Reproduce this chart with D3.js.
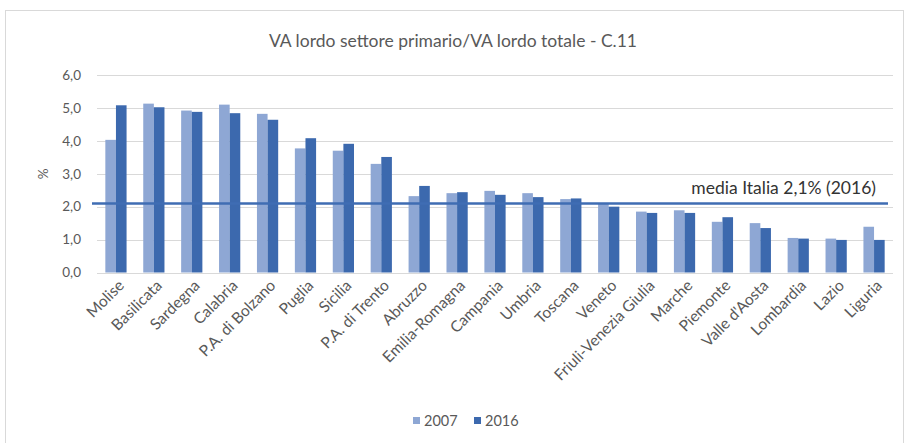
<!DOCTYPE html>
<html>
<head>
<meta charset="utf-8">
<script src="https://cdn.jsdelivr.net/npm/d3@7"></script>
<style>
  body { margin: 0; background: #fff; }
  text { font-family: Lato, "Open Sans", sans-serif; fill: #595959; }
</style>
</head>
<body>
<div id="chart"></div>
<script>
const regions = ["Molise", "Basilicata", "Sardegna", "Calabria", "P.A. di Bolzano", "Puglia",
  "Sicilia", "P.A. di Trento", "Abruzzo", "Emilia-Romagna", "Campania", "Umbria", "Toscana",
  "Veneto", "Friuli-Venezia Giulia", "Marche", "Piemonte", "Valle d'Aosta", "Lombardia",
  "Lazio", "Liguria"];
const va2007 = [4.03, 5.13, 4.92, 5.10, 4.82, 3.77, 3.70, 3.30, 2.32, 2.41, 2.48, 2.41, 2.23,
  2.10, 1.85, 1.89, 1.54, 1.50, 1.05, 1.03, 1.39];
const va2016 = [5.08, 5.02, 4.88, 4.84, 4.64, 4.08, 3.91, 3.51, 2.63, 2.44, 2.36, 2.29, 2.25,
  2.00, 1.81, 1.81, 1.68, 1.35, 1.03, 0.99, 0.99];
const years = ["2007", "2016"];
const yTicks = [0, 1, 2, 3, 4, 5, 6];
const mediaItalia = 2.1;

const W = 906, H = 443;
const margin = { top: 75, right: 13, bottom: 171, left: 97 };
const colors = ["#8EA7D4", "#3C69AE"];

const svg = d3.select("#chart").append("svg")
  .attr("width", W).attr("height", H);

svg.append("rect")
  .attr("x", 5.5).attr("y", 10.5)
  .attr("width", W - 8).attr("height", H - 8)
  .attr("fill", "#fff").attr("stroke", "#d9d9d9");

const x = d3.scaleBand()
  .domain(regions)
  .range([margin.left, W - margin.right])
  .paddingInner(0.44).paddingOuter(0.22);

const xs = d3.scaleBand().domain(years).range([0, x.bandwidth()]);

const y = d3.scaleLinear().domain([0, 6]).range([H - margin.bottom + 0.5, margin.top]);

// grid
svg.append("g").selectAll("line")
  .data(yTicks).enter().append("line")
  .attr("x1", margin.left).attr("x2", W - margin.right)
  .attr("y1", d => Math.round(y(d)) + 0.5).attr("y2", d => Math.round(y(d)) + 0.5)
  .attr("stroke", "#d9d9d9");

// y axis labels
const yAxis = d3.axisLeft(y).tickValues(yTicks)
  .tickFormat(d => d3.format(".1f")(d).replace(".", ","))
  .tickSize(0).tickPadding(16);
svg.append("g")
  .attr("transform", `translate(${margin.left},0)`)
  .call(yAxis)
  .call(g => g.select(".domain").remove())
  .call(g => g.selectAll("text").attr("font-size", 13.5).attr("font-family", "Lato").attr("fill", "#595959"));

svg.append("text")
  .attr("transform", `translate(48,${y(3)}) rotate(-90)`)
  .attr("text-anchor", "middle")
  .attr("font-size", 13.5)
  .text("%");

// bars
const groups = svg.append("g").selectAll("g")
  .data(regions).enter().append("g")
  .attr("transform", d => `translate(${x(d)},0)`);

groups.selectAll("rect")
  .data((d, i) => [{ k: "2007", v: va2007[i] }, { k: "2016", v: va2016[i] }])
  .enter().append("rect")
  .attr("x", d => xs(d.k))
  .attr("width", xs.bandwidth())
  .attr("y", d => y(d.v))
  .attr("height", d => y(0) - y(d.v))
  .attr("fill", (d, i) => colors[i]);

// average line
svg.append("line")
  .attr("x1", margin.left - 5).attr("x2", W - margin.right - 5)
  .attr("y1", y(mediaItalia)).attr("y2", y(mediaItalia))
  .attr("stroke", "#3F6DB3").attr("stroke-width", 2.5);

svg.append("text")
  .attr("x", 876).attr("y", y(mediaItalia) - 9)
  .attr("text-anchor", "end")
  .attr("font-size", 17.5)
  .style("fill", "#333")
  .text("media Italia 2,1% (2016)");

// x labels
const xAxis = d3.axisBottom(x).tickSize(0).tickPadding(0);
svg.append("g")
  .attr("transform", `translate(0,${y(0)})`)
  .call(xAxis)
  .call(g => g.select(".domain").remove())
  .call(g => g.selectAll("text")
    .attr("font-size", 15.5)
    .attr("font-family", "Lato")
    .attr("fill", "#595959")
    .attr("text-anchor", "end")
    .attr("dy", 0)
    .attr("transform", "translate(9,14) rotate(-45)"));

// title
svg.append("text")
  .attr("x", 453).attr("y", 47)
  .attr("text-anchor", "middle")
  .attr("font-size", 17.5)
  .text("VA lordo settore primario/VA lordo totale - C.11");

// legend
const legend = svg.append("g").attr("transform", "translate(413,421)");
const li = legend.selectAll("g").data(years).enter().append("g")
  .attr("transform", (d, i) => `translate(${i * 61},0)`);
li.append("rect").attr("x", 0).attr("y", -4).attr("width", 7).attr("height", 7)
  .attr("fill", (d, i) => colors[i]);
li.append("text").attr("x", 11).attr("y", 5)
  .attr("font-size", 14.5).text(d => d);
</script>
</body>
</html>
